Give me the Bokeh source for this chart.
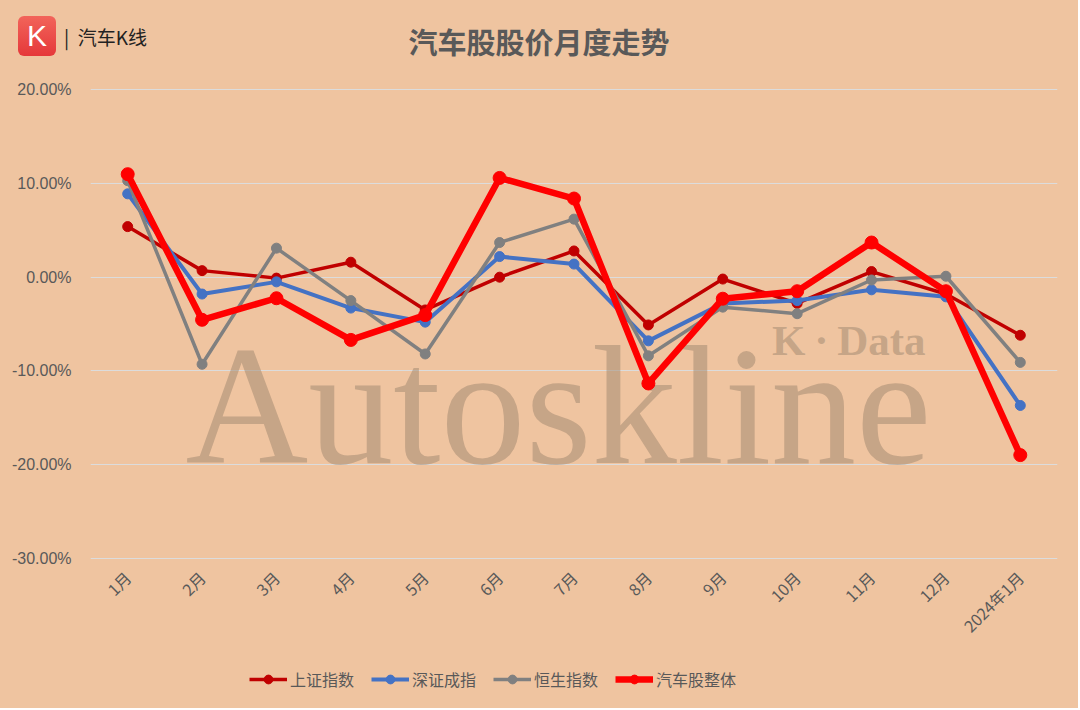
import math
from bokeh.plotting import figure
from bokeh.layouts import column
from bokeh.models import Range1d, FixedTicker, PrintfTickFormatter, Label, Legend, LegendItem, Div
from bokeh.embed import file_html
from bokeh.resources import INLINE

# ---------------- data ----------------
months = ["1月", "2月", "3月", "4月", "5月", "6月", "7月", "8月", "9月", "10月", "11月", "12月", "2024年1月"]
sh_index = [5.4, 0.7, -0.1, 1.6, -3.5, 0.0, 2.8, -5.1, -0.2, -2.8, 0.6, -1.8, -6.2]       # 上证指数
sz_index = [8.9, -1.8, -0.5, -3.3, -4.8, 2.2, 1.4, -6.8, -2.8, -2.5, -1.35, -2.1, -13.7]  # 深证成指
hs_index = [10.3, -9.3, 3.1, -2.5, -8.2, 3.7, 6.2, -8.4, -3.2, -3.9, -0.3, 0.1, -9.1]    # 恒生指数
auto_all = [11.0, -4.55, -2.25, -6.7, -4.05, 10.6, 8.4, -11.35, -2.3, -1.5, 3.7, -1.5, -19.0]  # 汽车股整体
y_ticks = [-30, -20, -10, 0, 10, 20]

series_names = ["上证指数", "深证成指", "恒生指数", "汽车股整体"]
series_values = [sh_index, sz_index, hs_index, auto_all]
series_colors = ["#C00000", "#4472C4", "#808080", "#FF0000"]
line_widths = [3.5, 4, 3.5, 6.5]
marker_sizes = [10, 10, 10, 13]

BG = "#EFC4A0"
TXT = "#595959"
CJK = "Noto Sans CJK SC"
W = 1078

# ---------------- header (logo + title) ----------------
header_html = f"""
<div style="position:relative;width:{W}px;height:77px;background:{BG};overflow:hidden;">
  <div style="position:absolute;left:18px;top:16px;width:38px;height:40px;border-radius:6px;
              background:linear-gradient(#F2645A,#E5383A);color:#ffffff;
              font-family:'Liberation Sans';font-size:30px;font-weight:300;
              text-align:center;line-height:40px;">K</div>
  <div style="position:absolute;left:64px;top:23px;font-family:'{CJK}';font-size:19px;
              color:#222222;line-height:28px;white-space:nowrap;">|&nbsp;&nbsp;汽车K线</div>
  <div style="position:absolute;left:0;top:21px;width:{W}px;text-align:center;
              font-family:'{CJK}';font-size:29px;font-weight:bold;color:{TXT};
              line-height:40px;">汽车股股价月度走势</div>
</div>
"""
head = Div(text=header_html, width=W, height=77, styles={"background-color": BG, "margin": "0"})

# ---------------- main chart ----------------
p = figure(x_range=months, y_range=Range1d(-30.15, 20.15), frame_width=967, frame_height=471,
           output_backend="svg", toolbar_location=None, title=None,
           min_border_left=90, min_border_right=21, min_border_top=11, min_border_bottom=89)
p.background_fill_color = None
p.border_fill_color = BG
p.outline_line_color = None

p.xgrid.visible = False
p.ygrid.grid_line_color = "#DCDCDC"
p.ygrid.grid_line_width = 1.2
p.yaxis.ticker = FixedTicker(ticks=y_ticks)
p.ygrid.ticker = FixedTicker(ticks=y_ticks)
p.yaxis.formatter = PrintfTickFormatter(format="%.2f%%")
p.yaxis.axis_line_color = None
p.yaxis.major_tick_line_color = None
p.yaxis.minor_tick_line_color = None
p.yaxis.major_label_text_font = "Liberation Sans"
p.yaxis.major_label_text_font_size = "16px"
p.yaxis.major_label_text_color = TXT
p.yaxis.major_label_standoff = 13

p.xaxis.axis_line_color = None
p.xaxis.major_tick_line_color = None
p.xaxis.minor_tick_line_color = None
p.xaxis.major_label_orientation = math.pi / 4
p.xaxis.major_label_text_font = CJK
p.xaxis.major_label_text_font_size = "16px"
p.xaxis.major_label_text_color = TXT
p.xaxis.major_label_standoff = 9

# watermark
p.add_layout(Label(x=95, y=154, x_units="screen", y_units="screen", text="Autoskline",
                   text_font="Liberation Serif", text_font_size="170px", text_color="#9D866E",
                   text_alpha=0.5, text_baseline="alphabetic", text_align="left", level="underlay"))
p.add_layout(Label(x=835, y=219, x_units="screen", y_units="screen", text="K\u2009·\u2009Data",
                   text_font="Liberation Serif", text_font_style="bold", text_font_size="43px",
                   text_color="#9D866E", text_alpha=0.5, text_baseline="alphabetic",
                   text_align="right", level="underlay"))

# ---------------- footer (legend) ----------------
foot = figure(width=W, height=60, x_range=months, y_range=Range1d(1000, 1001),
              x_axis_type=None, y_axis_type=None, output_backend="svg",
              toolbar_location=None, title=None, min_border=0)
foot.background_fill_color = None
foot.border_fill_color = BG
foot.outline_line_color = None
foot.grid.visible = False

items = []
for name, vals, col, lw, ms in zip(series_names, series_values, series_colors, line_widths, marker_sizes):
    p.line(months, vals, line_color=col, line_width=lw, line_join="round")
    p.scatter(months, vals, size=ms, fill_color=col, line_color=col)
    l1 = foot.line(months, vals, line_color=col, line_width=lw)
    l2 = foot.scatter(months, vals, size=ms, fill_color=col, line_color=col)
    items.append(LegendItem(label=name, renderers=[l1, l2]))

legend = Legend(items=items, orientation="horizontal", location=(159, 17),
                label_text_font=CJK, label_text_font_size="16px", label_text_color=TXT,
                glyph_width=38, glyph_height=22, label_height=22, spacing=17, label_standoff=3,
                background_fill_alpha=0, border_line_color=None, margin=0, padding=0)
foot.add_layout(legend, "center")

layout = column(head, p, foot, spacing=0, styles={"background-color": BG})
open("out.html", "w").write(file_html(layout, INLINE))
